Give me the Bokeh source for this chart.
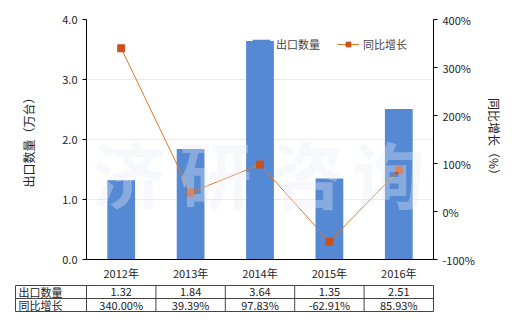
from bokeh.plotting import figure
from bokeh.models import (FactorRange, Range1d, LinearAxis, PrintfTickFormatter,
                          Legend, LegendItem, ColumnDataSource, Label, FixedTicker)
from bokeh.layouts import column
from bokeh.core.properties import value
from bokeh.embed import file_html
from bokeh.resources import INLINE

# ---- data ----
years = ["2012年", "2013年", "2014年", "2015年", "2016年"]
export_qty = [1.32, 1.84, 3.64, 1.35, 2.51]
yoy_growth = [340.00, 39.39, 97.83, -62.91, 85.93]
qty_labels = ["1.32", "1.84", "3.64", "1.35", "2.51"]
growth_labels = ["340.00%", "39.39%", "97.83%", "-62.91%", "85.93%"]
row_headers = ["出口数量", "同比增长"]

FONT = "Noto Sans CJK SC"
BAR_COLOR = "#5589d3"
LINE_COLOR = "#e0782a"
MARK_COLOR = "#c8521b"
GRID = "#dfeeee"

W = 520
FL, FR, FT = 86, 87, 19
MAIN_H = 283
TABLE_H = 330 - MAIN_H

src = ColumnDataSource(dict(x=years, q=export_qty, g=yoy_growth))

p = figure(width=W, height=MAIN_H, x_range=FactorRange(*years), y_range=Range1d(0, 4),
           output_backend="svg", toolbar_location=None, frame_align=False,
           min_border_left=FL, min_border_right=FR, min_border_top=FT, min_border_bottom=21)
p.outline_line_color = None
p.background_fill_color = "white"
p.border_fill_color = "white"

p.extra_y_ranges = {"pct": Range1d(-100, 400)}

bars = p.vbar(x="x", top="q", width=0.4, source=src, color=BAR_COLOR, line_color=None)
line = p.line(x="x", y="g", source=src, y_range_name="pct", color=LINE_COLOR, line_width=1)
marks = p.scatter(x="x", y="g", source=src, y_range_name="pct", marker="square", size=7,
                  color=MARK_COLOR, line_color=MARK_COLOR)

# axes
yax = p.yaxis[0]
yax.ticker = FixedTicker(ticks=[0, 1, 2, 3, 4])
yax.formatter = PrintfTickFormatter(format="%.1f")
yax.axis_label = "出口数量（万台）"
yax.axis_label_standoff = 22
yax.axis_line_color = "black"
yax.major_tick_line_color = "black"
yax.major_tick_out = 4
yax.major_tick_in = 0
yax.minor_tick_line_color = None

rax = LinearAxis(y_range_name="pct", ticker=FixedTicker(ticks=[-100, 0, 100, 200, 300, 400]),
                 formatter=PrintfTickFormatter(format="%d%%"), axis_label="同比增长（%）")
rax.axis_line_color = "black"
rax.major_tick_line_color = "black"
rax.major_tick_out = 4
rax.major_tick_in = 0
rax.minor_tick_line_color = None
rax.axis_label_standoff = 8
p.add_layout(rax, "right")

xax = p.xaxis[0]
xax.axis_line_color = "black"
xax.major_tick_line_color = None
xax.major_tick_out = 0
xax.major_tick_in = 0
xax.minor_tick_line_color = None
xax.major_label_standoff = 5

for ax in [yax, rax, xax]:
    ax.major_label_text_font = FONT
    ax.major_label_text_font_size = "11px"
    ax.major_label_text_color = "#222222"
    ax.axis_label_text_font = FONT
    ax.axis_label_text_font_size = "12px"
    ax.axis_label_text_font_style = "normal"
    ax.axis_label_text_color = "#222222"

p.xgrid.grid_line_color = None
p.ygrid.grid_line_color = GRID
p.ygrid.ticker = FixedTicker(ticks=[1, 2, 3, 4])

# watermark
for ch, xs in zip("济研咨询", [42, 129, 221, 302]):
    p.add_layout(Label(x=xs, y=36, x_units="screen", y_units="screen", text=ch,
                       text_font=FONT, text_font_size="72px", text_font_style="bold",
                       text_color="#e6ecf4", text_alpha=0.35, text_align="center"))

legend = Legend(items=[LegendItem(label="出口数量", renderers=[bars]),
                       LegendItem(label="同比增长", renderers=[line, marks])],
                orientation="horizontal", location=(164, 207),
                background_fill_alpha=0, border_line_color=None,
                label_text_font=FONT, label_text_font_size="11px",
                glyph_width=22, glyph_height=12, spacing=17, padding=2, margin=0,
                label_standoff=4)
p.add_layout(legend, "center")

# ---- table ----
unit = (W - FL - FR) / len(years)
t = figure(width=W, height=TABLE_H, output_backend="svg", toolbar_location=None,
           frame_align=False,
           x_range=Range1d(-FL / unit, (W - FL) / unit), y_range=Range1d(TABLE_H, 0),
           min_border=0)
t.axis.visible = False
t.grid.visible = False
t.outline_line_color = None

left_edge = -(FL - 15) / unit
rows_y = [2, 15, 28]
n = len(years)
# horizontal lines
t.segment(x0=[left_edge] * 3, x1=[n] * 3, y0=rows_y, y1=rows_y, color="#444444", line_width=1)
# vertical lines
vx = [left_edge] + list(range(n + 1))
t.segment(x0=vx, x1=vx, y0=[rows_y[0]] * len(vx), y1=[rows_y[-1]] * len(vx),
          color="#444444", line_width=1)

centers = [i + 0.5 for i in range(n)]
ymid = [(rows_y[0] + rows_y[1]) / 2, (rows_y[1] + rows_y[2]) / 2]
t.text(x=centers, y=[ymid[0]] * n, text=qty_labels, text_align="center", text_baseline="middle",
       text_font=value(FONT), text_font_size="11px", text_color="#222222")
t.text(x=centers, y=[ymid[1]] * n, text=growth_labels, text_align="center", text_baseline="middle",
       text_font=value(FONT), text_font_size="11px", text_color="#222222")
t.text(x=[left_edge + 3 / unit] * 2, y=ymid, text=row_headers, text_align="left",
       text_baseline="middle", text_font=value(FONT), text_font_size="11px", text_color="#222222")

layout = column(p, t, spacing=0)
open("out.html", "w").write(file_html(layout, INLINE))
